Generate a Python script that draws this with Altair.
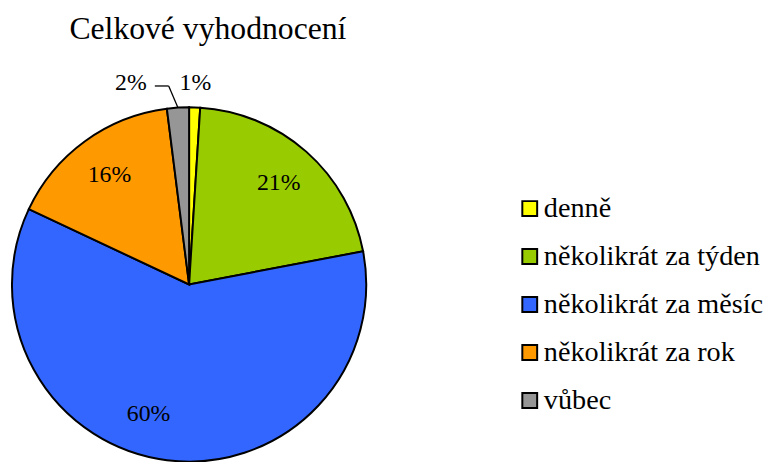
import altair as alt
import pandas as pd

categories = ["denně", "několikrát za týden", "několikrát za měsíc", "několikrát za rok", "vůbec"]
values = [1, 21, 60, 16, 2]
labels = ["1%", "21%", "60%", "16%", "2%"]
colors = ["#FFFF00", "#99CC00", "#3366FF", "#FF9900", "#969696"]

df = pd.DataFrame({
    "cat": categories,
    "value": values,
    "label": labels,
    "idx": list(range(len(categories))),
})

FONT = "Liberation Serif"
R = 179

base = alt.Chart(df).encode(
    theta=alt.Theta("value:Q", stack=True),
    order=alt.Order("idx:Q"),
)

arcs = base.mark_arc(outerRadius=R, stroke="black", strokeWidth=2).encode(
    color=alt.Color(
        "cat:N",
        scale=alt.Scale(domain=categories, range=colors),
        legend=alt.Legend(
            title=None, orient="none", legendX=509, legendY=88,
            labelFont=FONT, labelFontSize=28.5, labelColor="black",
            symbolType="square", symbolSize=225, symbolStrokeColor="black",
            symbolStrokeWidth=2, symbolOpacity=1, rowPadding=19.5, labelOffset=0,
            labelLimit=400,
        ),
    )
)

def label_layer(cond, **kw):
    return base.transform_calculate(
        t=f"({cond}) ? datum.label : ''"
    ).mark_text(font=FONT, fontSize=24, color="black", **kw).encode(text="t:N")

inside = label_layer("datum.idx == 1 || datum.idx == 3", radius=137)
big = label_layer("datum.idx == 2", radius=135, dx=-24, dy=-3)
one = label_layer("datum.idx == 0", radius=204)
two = label_layer("datum.idx == 4", radius=204, dx=-46)

leader_base = alt.Chart(df).transform_window(
    cum="sum(value)", sort=[alt.SortField("idx")], frame=[None, 0]
).transform_joinaggregate(
    total="sum(value)"
).transform_calculate(
    a="(datum.cum - datum.value / 2) / datum.total * 2 * PI"
).transform_filter(
    "datum.idx == 4"
).transform_calculate(
    px1=f"179 + {R} * sin(datum.a)",
    py1=f"179 - {R} * cos(datum.a)",
    px2="179 + 201 * sin(datum.a) - 8",
    py2="179 - 201 * cos(datum.a)",
    px3="179 + 201 * sin(datum.a) - 22",
)

seg1 = leader_base.mark_rule(color="black", strokeWidth=1.3).encode(
    x=alt.X("px1:Q", scale=None), y=alt.Y("py1:Q", scale=None),
    x2="px2:Q", y2="py2:Q",
)
seg2 = leader_base.mark_rule(color="black", strokeWidth=1.3).encode(
    x=alt.X("px2:Q", scale=None), y=alt.Y("py2:Q", scale=None),
    x2="px3:Q", y2="py2:Q",
)

chart = alt.layer(arcs, inside, big, one, two, seg1, seg2).properties(
    width=358, height=358,
    title=alt.Title("Celkové vyhodnocení", font=FONT, fontSize=32, fontWeight="normal",
                    color="black", offset=25, dx=19, anchor="middle"),
    padding={"left": 4, "top": 98, "right": 404, "bottom": 0},
    autosize=alt.AutoSizeParams(type="none"),
).configure_view(stroke=None)

chart.save("out.html", embed_options={"renderer": "svg", "actions": False})
